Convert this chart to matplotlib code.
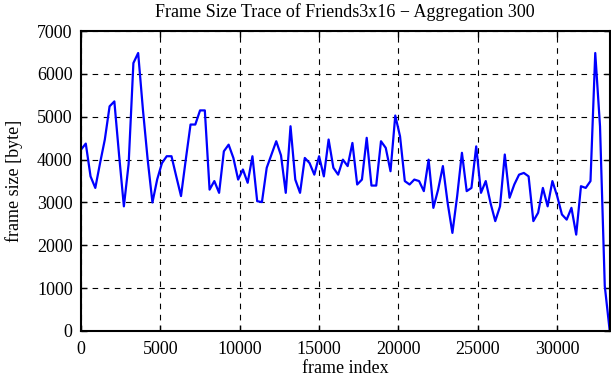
import matplotlib
matplotlib.use("Agg")
import matplotlib.pyplot as plt
import numpy as np

matplotlib.rcParams.update({"font.family": "Liberation Serif", "font.size": 13})

# aggregated frame sizes, one value every 300 frames
step = 300
frame_size = [4235, 4375, 3610, 3340, 3920, 4470, 5245, 5360, 4100, 2910,
              3900, 6255, 6490, 5170, 4000, 3000, 3540, 3920, 4080, 4080,
              3610, 3150, 4000, 4820, 4820, 5150, 5150, 3300, 3500, 3225,
              4195, 4350, 4040, 3535, 3770, 3460, 4080, 3030, 3010, 3810,
              4120, 4430, 4100, 3225, 4780, 3535, 3225, 4040, 3920, 3650,
              4080, 3610, 4470, 3810, 3650, 4000, 3850, 4390, 3420, 3535,
              4510, 3395, 3395, 4430, 4275, 3730, 5030, 4545, 3500, 3420,
              3535, 3500, 3265, 4000, 2875, 3300, 3850, 2990, 2290, 3150,
              4160, 3265, 3340, 4310, 3225, 3500, 2990, 2565, 2910, 4120,
              3110, 3420, 3650, 3690, 3610, 2565, 2760, 3340, 2910, 3500,
              3150, 2720, 2600, 2875, 2250, 3380, 3340, 3500, 6490, 4780,
              1050, 40]
frame_index = np.arange(len(frame_size)) * step

xticks = [0, 5000, 10000, 15000, 20000, 25000, 30000]
yticks = [0, 1000, 2000, 3000, 4000, 5000, 6000, 7000]

fig = plt.figure(figsize=(6.11, 3.80), dpi=100)
ax = fig.add_axes([0.1326, 0.129, 0.865, 0.789])
ax.plot(frame_index, frame_size, color="#0000ff", linewidth=1.6)

ax.set_xlim(0, frame_index[-1])
ax.set_ylim(0, 7000)
ax.set_xticks(xticks)
ax.set_yticks(yticks)
ax.grid(True, color="black", linestyle=(0, (5, 5)), linewidth=0.8)
ax.tick_params(direction="in", top=True, right=True, length=4, width=1)
ax.tick_params(axis="x", pad=7)
ax.tick_params(axis="y", pad=6)
for s in ax.spines.values():
    s.set_linewidth(1.5)

ax.set_title("Frame Size Trace of Friends3x16 \u2212 Aggregation 300", fontsize=13, pad=10)
ax.set_xlabel("frame index", labelpad=2)
ax.set_ylabel("frame size [byte]", labelpad=10)

plt.savefig("out.png", dpi=100)
